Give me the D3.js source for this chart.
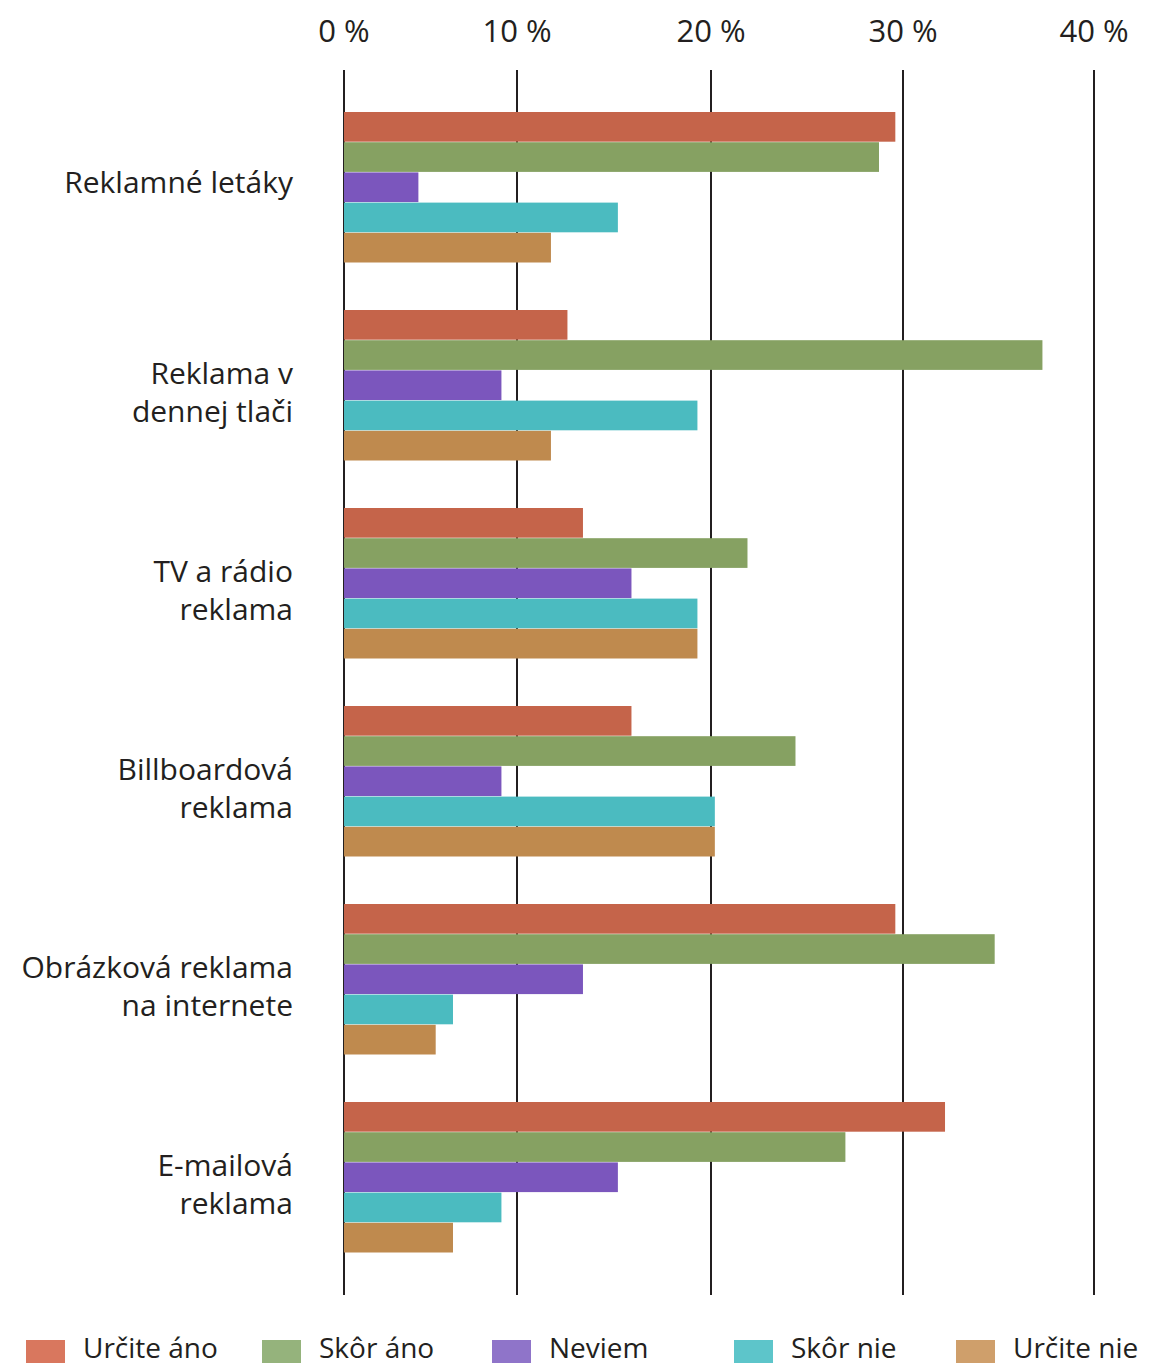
<!DOCTYPE html>
<html><head><meta charset="utf-8">
<script src="https://cdn.jsdelivr.net/npm/d3@7"></script>
<style>body{margin:0;background:#fff}svg{display:block}text{font-family:"Open Sans",sans-serif;fill:#231f20}</style>
</head><body><svg id="c" width="1154" height="1367"></svg>
<script>
const categories = [["Reklamné letáky"],["Reklama v","dennej tlači"],["TV a rádio","reklama"],["Billboardová","reklama"],["Obrázková reklama","na internete"],["E-mailová","reklama"]];
const seriesNames = ["Určite áno","Skôr áno","Neviem","Skôr nie","Určite nie"];
const urciteAno = [29.6,12.6,13.4,15.9,29.6,32.2];
const skorAno   = [28.75,37.3,21.9,24.4,34.8,27.0];
const neviem    = [4.3,9.1,15.9,9.1,13.4,15.2];
const skorNie   = [15.2,19.3,19.3,20.2,6.3,9.1];
const urciteNie = [11.75,11.75,19.3,20.2,5.3,6.3];
const tickValues = [0,10,20,30,40];
const tickLabels = ["0 %","10 %","20 %","30 %","40 %"];
const barColors = ["#c5644a","#86a162","#7b56bd","#4bbbc0","#bf8a4e"];
const legendColors = ["#d9775e","#95b37c","#8f74c9","#5dc5ca","#cf9f6b"];

const series = [urciteAno,skorAno,neviem,skorNie,urciteNie];
const svg = d3.select("#c");
// the source chart has slightly uneven gridline spacing
const x = d3.scaleLinear().domain(tickValues).range([344,517,711,903,1094]);
const y0 = d3.scaleBand().domain(d3.range(categories.length)).range([112,1300]);
const y1 = d3.scaleBand().domain(d3.range(series.length)).range([0,151]);

svg.append("g").selectAll("line").data(tickValues).join("line")
  .attr("x1",d=>x(d)).attr("x2",d=>x(d)).attr("y1",70).attr("y2",1295)
  .attr("stroke","#231f20").attr("stroke-width",2);
svg.append("g").selectAll("text").data(tickValues).join("text")
  .attr("x",d=>x(d)).attr("y",42).attr("text-anchor","middle")
  .attr("font-size",31).text((d,i)=>tickLabels[i]);

const g = svg.append("g");
categories.forEach((c,ci)=>{
  series.forEach((s,si)=>{
    g.append("rect").attr("x",x(0)).attr("y",y0(ci)+y1(si))
     .attr("width",x(s[ci])-x(0)).attr("height",y1.bandwidth()-0.5)
     .attr("fill",barColors[si]);
  });
  const cy = y0(ci)+75.5;
  if (c.length===1) {
    svg.append("text").attr("x",293).attr("y",cy+5).attr("text-anchor","end").attr("font-size",30).text(c[0]);
  } else {
    c.forEach((t,li)=>{
      svg.append("text").attr("x",293).attr("y",cy-2+li*38)
        .attr("text-anchor","end").attr("font-size",30).text(t);
    });
  }
});

const legX = [26,262,492,734,956];
const leg = svg.append("g");
seriesNames.forEach((n,i)=>{
  leg.append("rect").attr("x",legX[i]).attr("y",1340).attr("width",39).attr("height",23).attr("fill",legendColors[i]);
  leg.append("text").attr("x",legX[i]+57).attr("y",1358).attr("font-size",28).text(n);
});
</script></body></html>
